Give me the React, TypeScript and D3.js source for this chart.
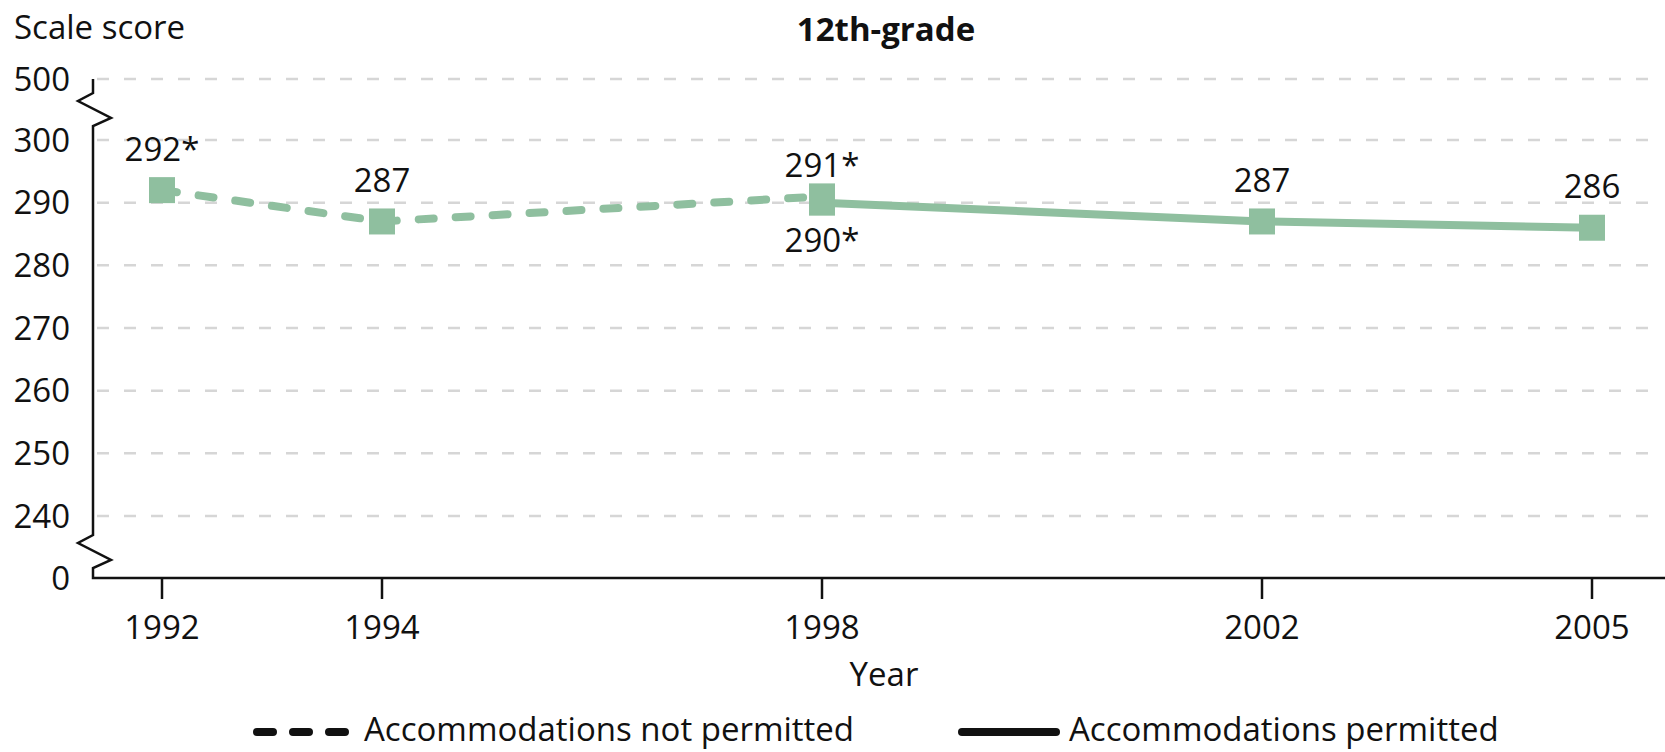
import * as d3 from "d3";

// years on the x axis
const years = [1992, 1994, 1998, 2002, 2005];

// accommodations not permitted (dashed)
const notPermittedYears = [1992, 1994, 1998];
const notPermittedScores = [292, 287, 291];
const notPermittedLabels = ["292*", "287", "291*"];

// accommodations permitted (solid)
const permittedYears = [1998, 2002, 2005];
const permittedScores = [290, 287, 286];
const permittedLabels = ["290*", "287", "286"];

// y ticks (axis is broken between 0-240 and 300-500)
const yTicks = [0, 240, 250, 260, 270, 280, 290, 300, 500];

const W = 1665;
const H = 752;
const FONT = "'Open Sans', sans-serif";
const FS = 33;
const GREEN = "#8fbf9f";

export default function App() {
  const axisX = 93;
  const x = d3.scaleLinear().domain([1992, 2005]).range([162, 1592]);
  const y = d3
    .scaleLinear()
    .domain([0, 240, 300, 500])
    .range([578, 516, 140, 79]);

  const line = d3
    .line<[number, number]>()
    .x((d) => x(d[0]))
    .y((d) => y(d[1]));

  const npPts = notPermittedYears.map((yr, i) => [yr, notPermittedScores[i]] as [number, number]);
  const pPts = permittedYears.map((yr, i) => [yr, permittedScores[i]] as [number, number]);

  // zigzag break marks on the y axis
  const zig = (start: number) => [
    [axisX, start],
    [axisX - 15, start + 8],
    [axisX + 18, start + 25],
    [axisX, start + 33],
  ];
  const axisPts = [
    [axisX, y(500)],
    ...zig(y(500) + 14),
    ...zig(y(240) + 19),
    [axisX, y(0)],
    [W, y(0)],
  ];
  const axisPath = "M" + axisPts.map((p) => p.join(",")).join("L");

  // place labels: above by default, below when two points share a year and this one is lower
  const labelY = (yr: number, v: number, other: { yrs: number[]; vals: number[] }) => {
    const j = other.yrs.indexOf(yr);
    if (j >= 0) {
      return other.vals[j] > v ? y(v) + 38 : y(v) - 31;
    }
    return y(v) - 41;
  };

  const ms = 26;
  const legendY = 729;

  return (
    <div style={{ position: "absolute", left: 0, top: 0 }}>
      <svg width={W} height={H} style={{ display: "block", background: "#fff" }}>
        {/* titles */}
        <text x={14} y={27} dy="0.35em" fontFamily={FONT} fontSize={FS} fill="#111">
          Scale score
        </text>
        <text x={886} y={29} dy="0.35em" textAnchor="middle" fontFamily={FONT} fontSize={FS} fontWeight="bold" fill="#111">
          12th-grade
        </text>

        {/* gridlines */}
        {yTicks
          .filter((t) => t !== 0)
          .map((t) => (
            <line
              key={"g" + t}
              x1={axisX + 4}
              x2={1648}
              y1={y(t)}
              y2={y(t)}
              stroke="#d6d6d6"
              strokeWidth={2.5}
              strokeDasharray="12 15"
            />
          ))}

        {/* y tick labels */}
        {yTicks.map((t) => (
          <text
            key={"yt" + t}
            x={70}
            y={y(t)}
            dy="0.35em"
            textAnchor="end"
            fontFamily={FONT}
            fontSize={FS}
            fill="#111"
          >
            {t}
          </text>
        ))}

        {/* axes */}
        <path d={axisPath} fill="none" stroke="#111" strokeWidth={2.5} strokeLinejoin="miter" />
        {years.map((yr) => (
          <g key={"xt" + yr}>
            <line x1={x(yr)} x2={x(yr)} y1={y(0)} y2={y(0) + 21} stroke="#111" strokeWidth={2.5} />
            <text x={x(yr)} y={627} dy="0.35em" textAnchor="middle" fontFamily={FONT} fontSize={FS} fill="#111">
              {yr}
            </text>
          </g>
        ))}
        <text x={884} y={674} dy="0.35em" textAnchor="middle" fontFamily={FONT} fontSize={FS} fill="#111">
          Year
        </text>

        {/* lines */}
        <path
          d={line(npPts) || ""}
          fill="none"
          stroke={GREEN}
          strokeWidth={8}
          strokeDasharray="15 22"
          strokeLinecap="round"
        />
        <path d={line(pPts) || ""} fill="none" stroke={GREEN} strokeWidth={8} />

        {/* markers */}
        {[...npPts, ...pPts].map((d, i) => (
          <rect
            key={"m" + i}
            x={x(d[0]) - ms / 2}
            y={y(d[1]) - ms / 2}
            width={ms}
            height={ms}
            fill={GREEN}
          />
        ))}

        {/* value labels */}
        {npPts.map((d, i) => (
          <text
            key={"lnp" + i}
            x={x(d[0])}
            y={labelY(d[0], d[1], { yrs: permittedYears, vals: permittedScores })}
            dy="0.35em"
            textAnchor="middle"
            fontFamily={FONT}
            fontSize={FS}
            fill="#111"
          >
            {notPermittedLabels[i]}
          </text>
        ))}
        {pPts.map((d, i) => (
          <text
            key={"lp" + i}
            x={x(d[0])}
            y={labelY(d[0], d[1], { yrs: notPermittedYears, vals: notPermittedScores })}
            dy="0.35em"
            textAnchor="middle"
            fontFamily={FONT}
            fontSize={FS}
            fill="#111"
          >
            {permittedLabels[i]}
          </text>
        ))}

        {/* legend */}
        <line
          x1={257}
          x2={346}
          y1={legendY + 3}
          y2={legendY + 3}
          stroke="#111"
          strokeWidth={8}
          strokeLinecap="round"
          strokeDasharray="16 20"
        />
        <text x={364} y={legendY} dy="0.35em" fontFamily={FONT} fontSize={FS} fill="#111">
          Accommodations not permitted
        </text>
        <line x1={962} x2={1056} y1={legendY + 3} y2={legendY + 3} stroke="#111" strokeWidth={8} strokeLinecap="round" />
        <text x={1069} y={legendY} dy="0.35em" fontFamily={FONT} fontSize={FS} fill="#111">
          Accommodations permitted
        </text>
      </svg>
    </div>
  );
}
